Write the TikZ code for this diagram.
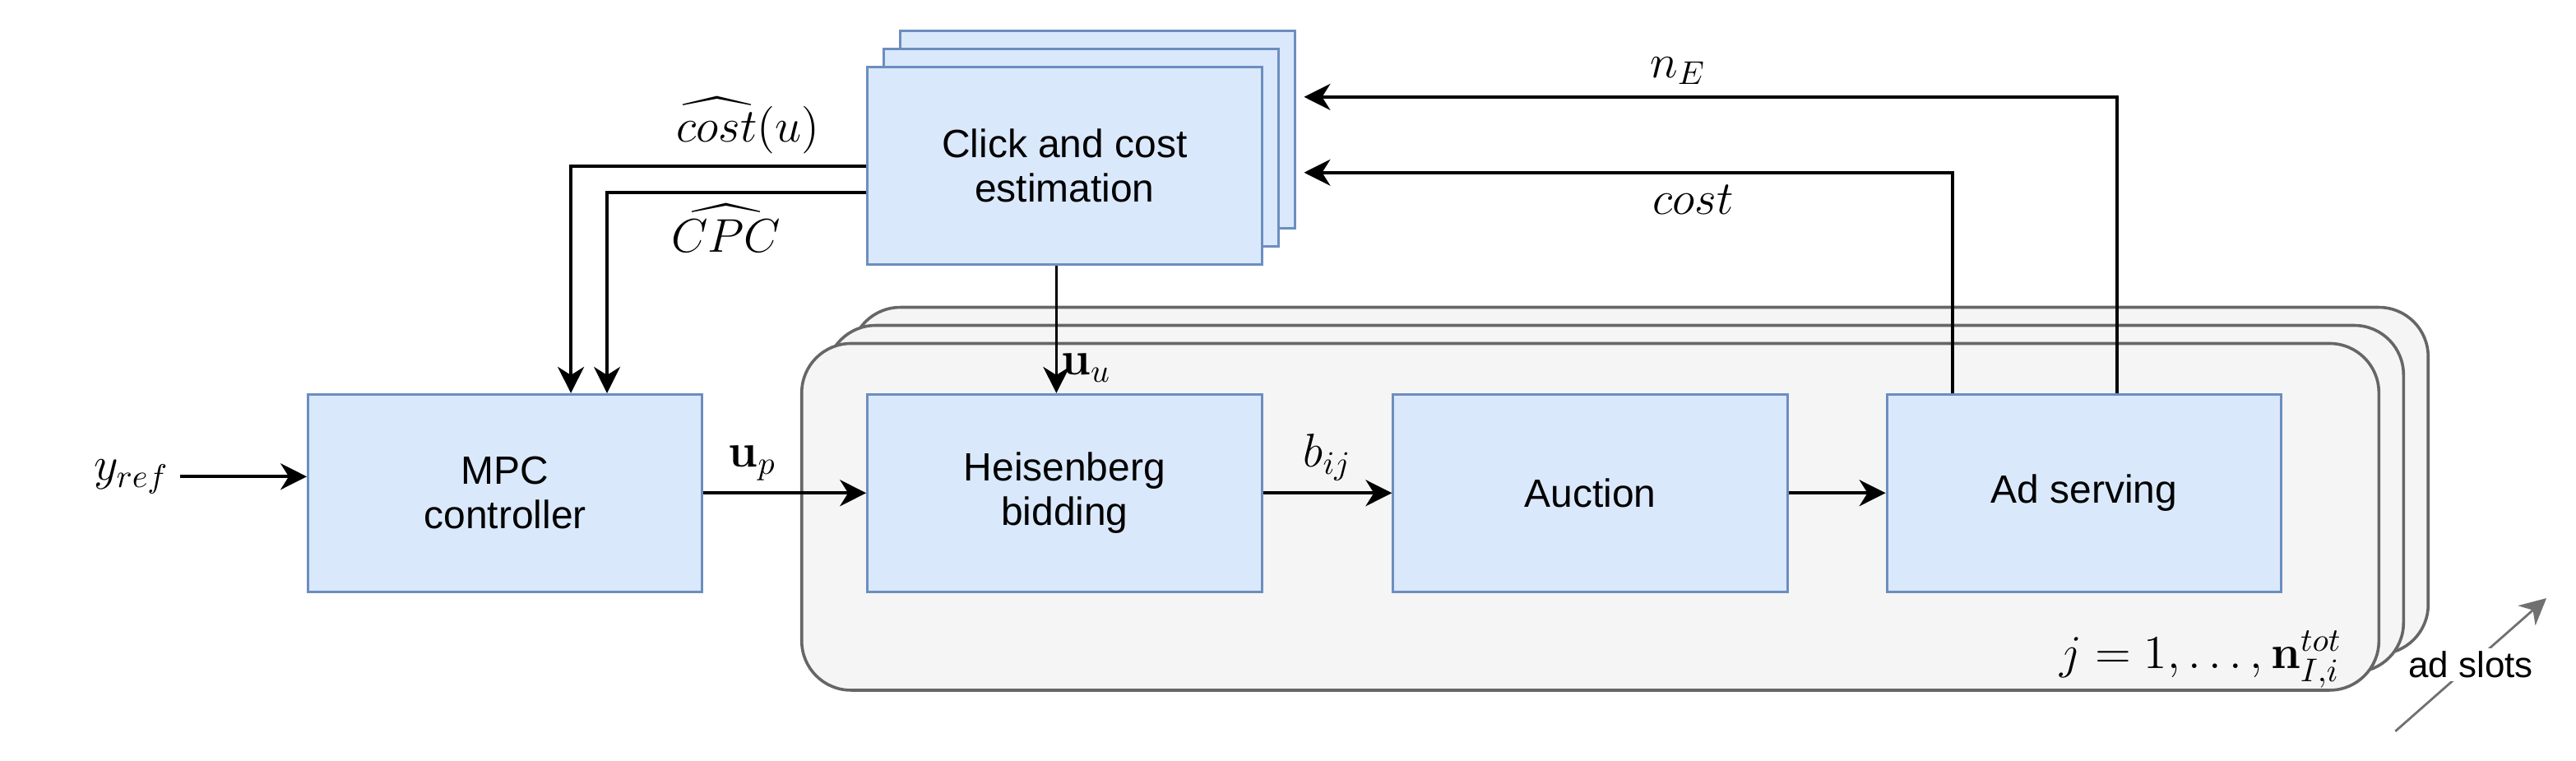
\documentclass[tikz,border=0pt]{standalone}
\usepackage{amsmath}
\usepackage[no-math]{fontspec}
\setmainfont{Liberation Sans}
\usetikzlibrary{arrows.meta,shadows}
\definecolor{boxfill}{HTML}{DAE8FC}
\definecolor{boxline}{HTML}{6C8EBF}
\definecolor{grpfill}{HTML}{F5F5F5}
\definecolor{grpline}{HTML}{666666}
\definecolor{adgray}{HTML}{707070}

\begin{document}
\begin{tikzpicture}[x=0.5pt,y=-0.5pt,>={Stealth[length=8pt,width=8pt,inset=2.5pt]},
  blk/.style={draw=boxline,fill=boxfill,line width=0.75pt,minimum width=120pt,minimum height=60pt,
    align=center,font=\fontsize{12}{13.5}\selectfont},
  arr/.style={->,line width=0.9pt},
  lbl/.style={font=\fontsize{14}{16}\selectfont}]
\useasboundingbox(0,0)rectangle(1568,462.6);
% ad slots pointer
\coordinate(adfrom)at(1458,445);
\coordinate(adto)at(1550,364);
\draw[line width=0.7pt,draw=adgray,-{Stealth[length=8pt,width=8pt,inset=2.5pt,fill=adgray]}](adfrom)--(adto)
  node[midway,fill=white,inner sep=1pt,font=\fontsize{11}{13}\selectfont](adslots){ad slots};
% stacked slots
\node[draw=grpline,fill=grpfill,line width=0.9pt,rounded corners=15pt,minimum width=480pt,minimum height=105.5pt,
  general shadow={shadow xshift=15pt,shadow yshift=11pt,draw=grpline,fill=grpfill,line width=0.9pt},
  general shadow={shadow xshift=7.5pt,shadow yshift=5.5pt,draw=grpline,fill=grpfill,line width=0.9pt}](slots)at(968,314.5){};
\node[lbl,anchor=south east,inner sep=0pt](jrange)at([xshift=-11.5pt,yshift=1pt]slots.south east){$j=1,\dots,\mathbf{n}^{tot}_{I,i}$};
% blocks
\node[blk](mpc)at(307.5,300){MPC\\controller};
\node[blk](heis)at(648,300){Heisenberg\\bidding};
\node[blk](auct)at(968,300){Auction};
\node[blk](serv)at(1268.5,300){Ad serving};
\node[blk,
  general shadow={shadow xshift=10pt,shadow yshift=11pt,draw=boxline,fill=boxfill,line width=0.75pt},
  general shadow={shadow xshift=5pt,shadow yshift=5.5pt,draw=boxline,fill=boxfill,line width=0.75pt}](click)at(648,101){Click and cost\\estimation};
\node[lbl](yref)at(80,290){$y_{ref}$};
% signals
\draw[arr](yref)--(yref-|mpc.west);
\draw[arr](mpc)--(heis)node[lbl,pos=0.3,above](up){$\mathbf{u}_p$};
\draw[arr](heis)--(auct)node[lbl,midway,above](bij){$b_{ij}$};
\draw[arr](auct)--(serv);
\draw[arr]([xshift=-2.5pt]click.south)--([xshift=-2.5pt]heis.north)
  node[lbl,pos=0.8,right,inner sep=1pt](uu){$\mathbf{u}_u$};
\draw[arr](click.west)-|([xshift=20pt]mpc.north)node[lbl,pos=0.2,above](costu){$\widehat{cost}(u)$};
\draw[arr]([yshift=-8pt]click.west)-|([xshift=31pt]mpc.north)node[lbl,pos=0.27,below](cpc){$\widehat{CPC}$};
\draw[arr]([xshift=10pt]serv.north)|-([xshift=12.5pt,yshift=21pt]click.east)node[lbl,pos=0.77,above](ne){$n_E$};
\draw[arr]([xshift=-40pt]serv.north)|-([xshift=12.5pt,yshift=-2pt]click.east)node[lbl,pos=0.7,below](cost){$cost$};
\end{tikzpicture}
\end{document}
